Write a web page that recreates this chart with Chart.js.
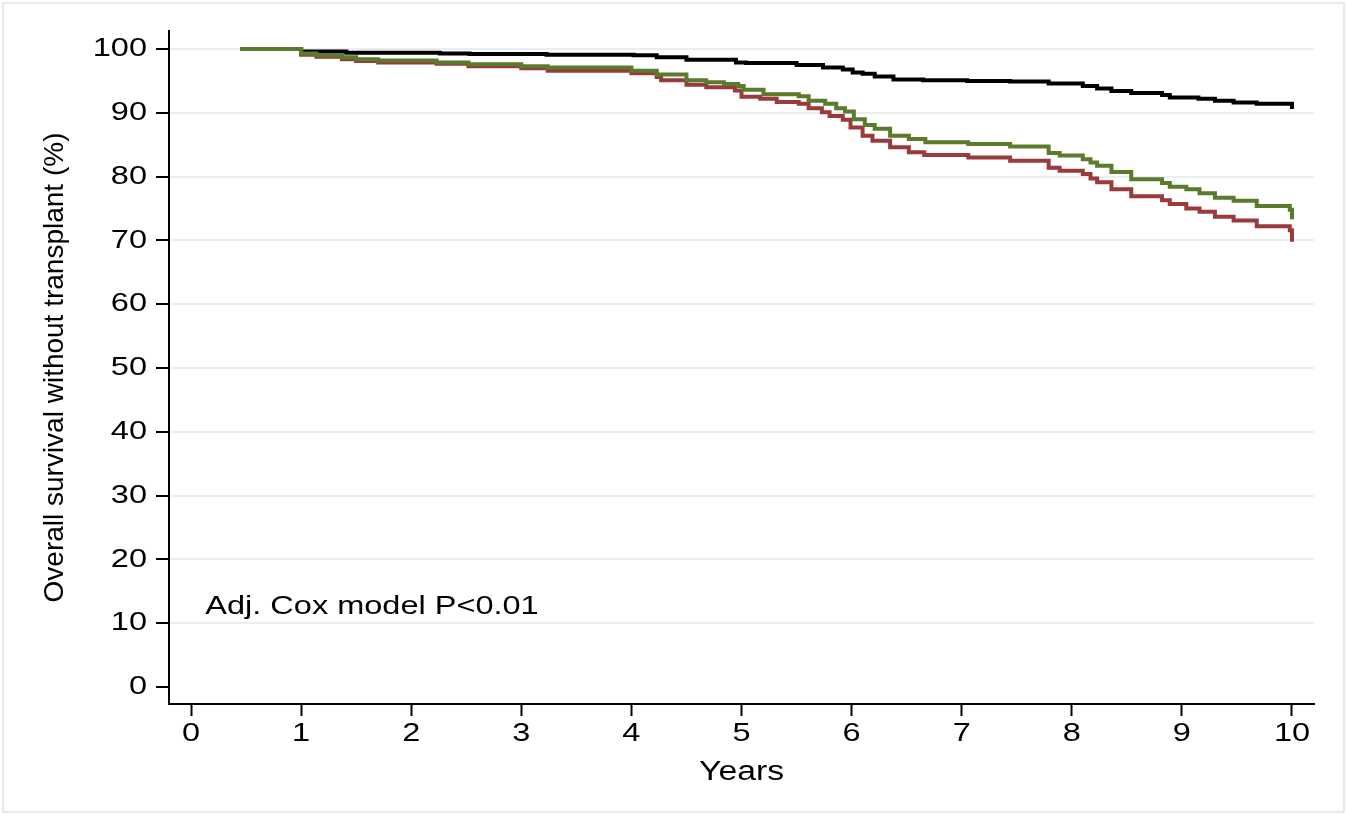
<!DOCTYPE html>
<html>
<head>
<meta charset="utf-8">
<title>Overall survival without transplant</title>
<script src="https://cdn.jsdelivr.net/npm/chart.js@4.4.0/dist/chart.umd.min.js"></script>
<style>
  body { margin: 0; background: #fff; }
  canvas { display: block; }
</style>
</head>
<body>
<canvas id="kmChart" width="1347" height="815"></canvas>
<script>
// Kaplan-Meier steps: time (years) where the curve changes, and survival (%) from then on
var yearsBlack = [0.45, 1.0, 1.41, 2.26, 2.53, 3.23, 4.02, 4.23, 4.50, 4.95, 5.04, 5.50, 5.74, 5.92, 6.01, 6.10, 6.21, 6.38, 6.65, 7.05, 7.44, 7.79, 8.10, 8.23, 8.36, 8.54, 8.82, 8.89, 9.15, 9.30, 9.47, 9.68, 10.0];
var survBlack  = [100, 99.6, 99.4, 99.3, 99.2, 99.1, 99.0, 98.7, 98.3, 97.9, 97.8, 97.5, 97.1, 96.8, 96.3, 96.1, 95.7, 95.2, 95.1, 95.0, 94.9, 94.6, 94.2, 93.8, 93.4, 93.1, 92.8, 92.4, 92.2, 91.9, 91.6, 91.4, 90.6];

var yearsGreen = [0.45, 1.0, 1.14, 1.37, 1.5, 1.7, 2.23, 2.52, 3.0, 3.24, 4.0, 4.23, 4.50, 4.68, 4.84, 4.97, 5.02, 5.20, 5.52, 5.61, 5.76, 5.86, 5.94, 6.02, 6.12, 6.21, 6.35, 6.52, 6.67, 7.06, 7.44, 7.79, 7.89, 8.10, 8.17, 8.23, 8.36, 8.54, 8.82, 8.89, 9.04, 9.16, 9.30, 9.47, 9.68, 9.98, 10.0];
var survGreen  = [100, 99.3, 99.0, 98.7, 98.4, 98.2, 97.9, 97.6, 97.3, 97.1, 96.6, 96.0, 95.1, 94.8, 94.5, 94.2, 93.6, 92.9, 92.6, 91.9, 91.4, 90.7, 90.2, 89.0, 88.1, 87.5, 86.4, 85.9, 85.4, 85.1, 84.7, 83.7, 83.3, 82.7, 82.2, 81.7, 80.7, 79.6, 79.0, 78.4, 78.0, 77.4, 76.7, 76.2, 75.4, 74.8, 73.3];

var yearsRed = [0.45, 1.0, 1.14, 1.37, 1.5, 1.7, 2.23, 2.52, 3.0, 3.24, 4.0, 4.23, 4.27, 4.50, 4.68, 4.94, 5.00, 5.17, 5.32, 5.52, 5.61, 5.73, 5.80, 5.92, 5.99, 6.10, 6.19, 6.35, 6.52, 6.66, 7.06, 7.44, 7.79, 7.89, 8.10, 8.17, 8.23, 8.36, 8.54, 8.82, 8.89, 9.04, 9.16, 9.30, 9.47, 9.68, 9.98, 10.0];
var survRed  = [100, 99.1, 98.8, 98.4, 98.1, 97.9, 97.7, 97.3, 97.0, 96.6, 96.2, 95.6, 95.1, 94.4, 94.0, 93.5, 92.5, 92.2, 91.7, 91.4, 90.7, 90.1, 89.5, 88.9, 87.7, 86.4, 85.6, 84.6, 83.8, 83.4, 83.0, 82.5, 81.4, 80.9, 80.4, 79.7, 79.1, 78.0, 76.9, 76.3, 75.7, 75.0, 74.5, 73.7, 73.1, 72.2, 71.6, 69.8];

var xTicks = [0, 1, 2, 3, 4, 5, 6, 7, 8, 9, 10];
var yTicks = [0, 10, 20, 30, 40, 50, 60, 70, 80, 90, 100];
var noteText = 'Adj. Cox model P<0.01';

var FONT = '"Liberation Sans", Arial, sans-serif';
var TEXT_STRETCH = 1.25;

function steps(years, surv) {
    return years.map(function(t, i){ return {x: t, y: surv[i]}; });
}

// white page with the thin grey outline round the graph region
var frame = {
    id: 'frame',
    beforeDraw: function(chart){
        var ctx = chart.ctx;
        ctx.save();
        ctx.fillStyle = '#fff';
        ctx.fillRect(0, 0, chart.width, chart.height);
        ctx.strokeStyle = '#e3ebee';
        ctx.lineWidth = 2;
        ctx.strokeRect(3, 3, chart.width - 6, chart.height - 6);
        ctx.restore();
    }
};

// horizontal labels are set wide; stretch them about their anchor point
var wideText = {
    id: 'wideText',
    beforeDraw: function(chart){
        var ctx = chart.ctx;
        var plain = ctx.fillText;
        chart.$plainFill = plain;
        ctx.fillText = function(txt, x, y){
            var m = this.getTransform();
            if (m.b !== 0 || m.c !== 0) return plain.call(this, txt, x, y);
            this.save();
            this.translate(x, y);
            this.scale(TEXT_STRETCH, 1);
            plain.call(this, txt, 0, 0);
            this.restore();
        };
    },
    afterDraw: function(chart){
        chart.ctx.fillText = chart.$plainFill;
    }
};

var coxNote = {
    id: 'coxNote',
    afterDatasetsDraw: function(chart){
        var ctx = chart.ctx, x = chart.scales.x, y = chart.scales.y;
        ctx.save();
        ctx.font = '26px ' + FONT;
        ctx.fillStyle = '#000';
        ctx.textAlign = 'left';
        ctx.textBaseline = 'middle';
        ctx.fillText(noteText, x.getPixelForValue(0.13), y.getPixelForValue(12.6));
        ctx.restore();
    }
};

function curve(data, color) {
    return {
        data: data,
        borderColor: color,
        backgroundColor: color,
        borderWidth: 4,
        pointRadius: 0,
        stepped: true,
        fill: false,
        borderCapStyle: 'butt',
        borderJoinStyle: 'miter'
    };
}

var ctxK = document.getElementById('kmChart').getContext('2d');
var kmChart = new Chart(ctxK, {
    type: 'line',
    data: {
        datasets: [
            curve(steps(yearsGreen, survGreen), '#5a7a2c'),
            curve(steps(yearsRed, survRed), '#9a3a3a'),
            curve(steps(yearsBlack, survBlack), '#000000')
        ]
    },
    options: {
        responsive: false,
        animation: false,
        devicePixelRatio: 1,
        layout: { padding: { top: 31, right: 33, left: 0, bottom: 0 } },
        plugins: {
            legend: { display: false },
            tooltip: { enabled: false }
        },
        scales: {
            x: {
                type: 'linear',
                min: -0.2,
                max: 10.2,
                afterBuildTicks: function(axis){ axis.ticks = xTicks.map(function(v){ return {value: v}; }); },
                afterFit: function(axis){ axis.height = 111; },
                border: { display: true, color: '#000', width: 2 },
                grid: {
                    drawOnChartArea: false,
                    drawTicks: true,
                    tickLength: 12,
                    tickWidth: 2,
                    tickColor: '#000'
                },
                ticks: {
                    color: '#000',
                    padding: 2,
                    maxRotation: 0,
                    autoSkip: false,
                    font: { family: FONT, size: 26 }
                },
                title: {
                    display: true,
                    text: 'Years',
                    color: '#000',
                    font: { family: FONT, size: 27 },
                    padding: { top: 0, bottom: 26 }
                }
            },
            y: {
                min: -2.67,
                max: 102.82,
                afterBuildTicks: function(axis){ axis.ticks = yTicks.map(function(v){ return {value: v}; }); },
                afterFit: function(axis){ axis.width = 169; },
                border: { display: true, color: '#000', width: 2 },
                grid: {
                    color: function(c){ return c.tick && c.tick.value === 0 ? 'rgba(0,0,0,0)' : '#e8eef1'; },
                    lineWidth: 2,
                    drawTicks: true,
                    tickLength: 13,
                    tickWidth: 2,
                    tickColor: '#000'
                },
                ticks: {
                    color: '#000',
                    padding: 9,
                    autoSkip: false,
                    font: { family: FONT, size: 26 }
                },
                title: {
                    display: true,
                    text: 'Overall survival without transplant (%)',
                    color: '#000',
                    font: { family: FONT, size: 28 },
                    padding: { top: 38, bottom: 0 }
                }
            }
        }
    },
    plugins: [frame, wideText, coxNote]
});
</script>
</body>
</html>
